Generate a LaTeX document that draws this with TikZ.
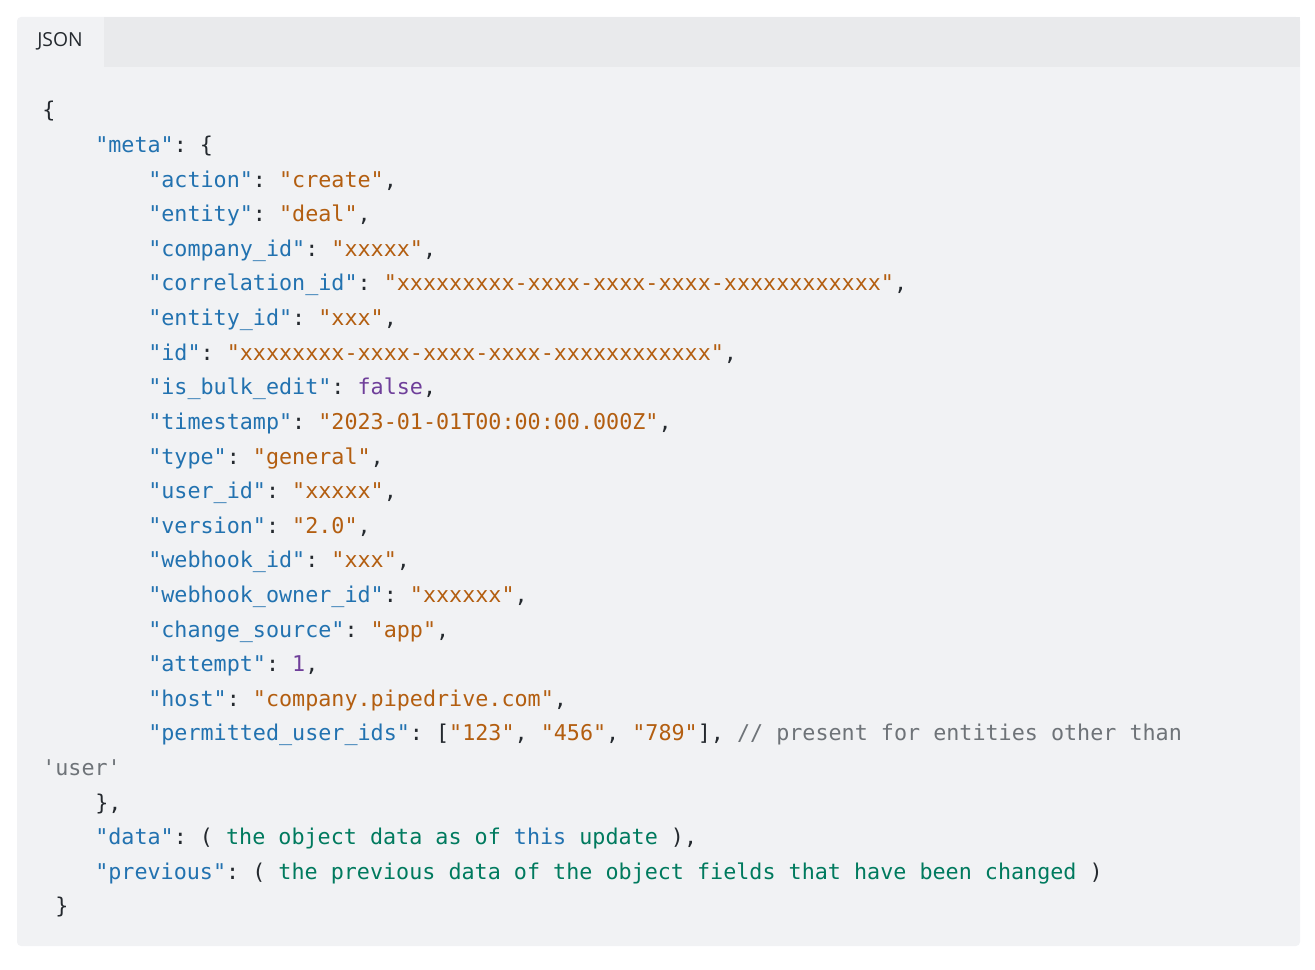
\documentclass[tikz,border=0pt]{standalone}
\usepackage{fontspec}
\setmainfont{Open Sans}
\setmonofont{DejaVu Sans Mono}
\definecolor{jsonkey}{HTML}{2272B0}
\definecolor{jsonstr}{HTML}{B35E10}
\definecolor{jsonlit}{HTML}{6F3F9A}
\definecolor{jsoncom}{HTML}{6E7378}
\definecolor{jsontxt}{HTML}{007A5E}
\definecolor{jsonpun}{HTML}{24292E}
\definecolor{boxbg}{HTML}{F1F2F4}
\definecolor{barbg}{HTML}{E9EAEC}
\newcommand\jk[1]{\textcolor{jsonkey}{"#1"}}
\newcommand\js[1]{\textcolor{jsonstr}{"#1"}}
\newcommand\jl[1]{\textcolor{jsonlit}{#1}}
\newcommand\jc[1]{\textcolor{jsoncom}{#1}}
\newcommand\jt[1]{\textcolor{jsontxt}{#1}}
\tikzset{
  code/.style={anchor=base west, inner sep=0pt, font=\fontsize{16.3pt}{19pt}\ttfamily, text=jsonpun},
  tab/.style={anchor=west, inner sep=0pt, font=\fontsize{14.5pt}{16pt}\selectfont, text=jsonpun}
}
\begin{document}
\begin{tikzpicture}[x=0.75pt,y=-0.75pt]
\useasboundingbox (0,0) rectangle (1315,970);

% frame
\fill[boxbg, rounded corners=3pt] (17,17) rectangle (1300,946);
\fill[barbg] (104,17) rectangle (1300,67);
\node[tab] (label) at (37,41) {JSON};

% code lines
\node[code] (l0) at (42,118) {\{};
\node[code] (l1) at (95,152.6) {\jk{meta}: \{};
\node[code] (l2) at (148,187.2) {\jk{action}: \js{create},};
\node[code] (l3) at (148,221.8) {\jk{entity}: \js{deal},};
\node[code] (l4) at (148,256.4) {\jk{company\_id}: \js{xxxxx},};
\node[code] (l5) at (148,291) {\jk{correlation\_id}: \js{xxxxxxxxx-xxxx-xxxx-xxxx-xxxxxxxxxxxx},};
\node[code] (l6) at (148,325.6) {\jk{entity\_id}: \js{xxx},};
\node[code] (l7) at (148,360.2) {\jk{id}: \js{xxxxxxxx-xxxx-xxxx-xxxx-xxxxxxxxxxxx},};
\node[code] (l8) at (148,394.8) {\jk{is\_bulk\_edit}: \jl{false},};
\node[code] (l9) at (148,429.4) {\jk{timestamp}: \js{2023-01-01T00:00:00.000Z},};
\node[code] (l10) at (148,464) {\jk{type}: \js{general},};
\node[code] (l11) at (148,498.6) {\jk{user\_id}: \js{xxxxx},};
\node[code] (l12) at (148,533.2) {\jk{version}: \js{2.0},};
\node[code] (l13) at (148,567.8) {\jk{webhook\_id}: \js{xxx},};
\node[code] (l14) at (148,602.4) {\jk{webhook\_owner\_id}: \js{xxxxxx},};
\node[code] (l15) at (148,637) {\jk{change\_source}: \js{app},};
\node[code] (l16) at (148,671.6) {\jk{attempt}: \jl{1},};
\node[code] (l17) at (148,706.2) {\jk{host}: \js{company.pipedrive.com},};
\node[code] (l18) at (148,740.8) {\jk{permitted\_user\_ids}: [\js{123}, \js{456}, \js{789}], \jc{// present for entities other than}};
\node[code] (l19) at (42,775.4) {\jc{'user'}};
\node[code] (l20) at (95,810) {\},};
\node[code] (l21) at (95,844.6) {\jk{data}: ( \jt{the object data as of} \textcolor{jsonkey}{this} \jt{update} ),};
\node[code] (l22) at (95,879.2) {\jk{previous}: ( \jt{the previous data of the object fields that have been changed} )};
\node[code] (l23) at (55,913.8) {\}};
\end{tikzpicture}
\end{document}
